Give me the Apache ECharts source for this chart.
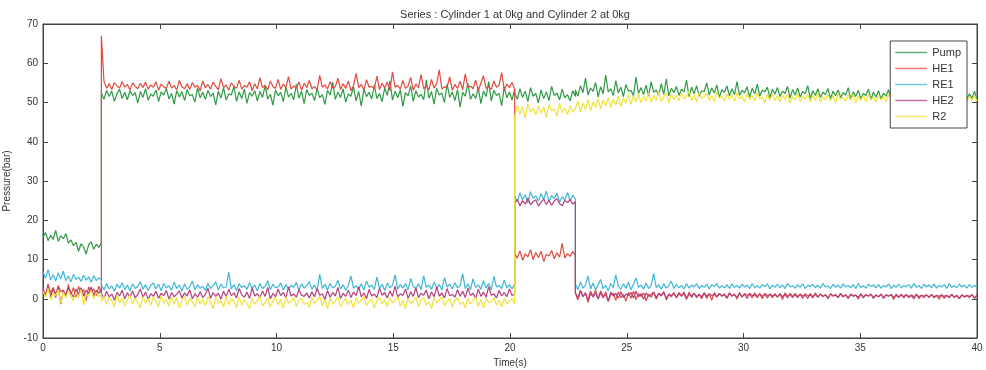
<!DOCTYPE html>
<html>
<head>
<meta charset="utf-8">
<script src="https://cdn.jsdelivr.net/npm/echarts@6/dist/echarts.min.js"></script>
<style>
  html, body { margin: 0; padding: 0; background: #fff; }
  #chartmain { width: 986px; height: 370px; }
</style>
</head>
<body>
<div id="chartmain"></div>
<script>
var segEdges = [0, 2.5, 20.2, 22.8, 40];
var segCounts = [24, 160, 24, 160];

var seriesNames = ['Pump', 'HE1', 'RE1', 'HE2', 'R2'];
var seriesColors = ['#2f9a45', '#e04b3f', '#3fb6d8', '#b3407c', '#f0e33c'];

var pump = [
  15.6, 16.9, 14.8, 16.2, 15.1, 17.4, 14.6, 16.0, 15.3, 16.6, 14.2, 15.0,
  13.5, 14.4, 12.1, 14.0, 13.2, 11.4, 13.8, 14.5, 12.6, 13.9, 13.1, 14.2,
  // 2.5 - 20.2 s
  52.4, 50.8, 53.1, 51.5, 52.9, 50.3, 52.2, 53.4, 51.0, 52.6,
  50.7, 53.0, 51.8, 52.5, 49.9, 52.8, 51.3, 53.5, 50.6, 52.1,
  51.6, 53.2, 50.2, 52.7, 51.9, 53.6, 50.9, 52.3, 49.6, 53.0,
  51.4, 52.8, 50.5, 53.3, 51.7, 52.0, 50.1, 53.7, 51.2, 52.6,
  50.8, 53.1, 51.5, 52.4, 49.4, 52.9, 51.1, 53.8, 50.6, 52.2,
  51.9, 54.1, 50.3, 52.7, 51.0, 53.4, 49.8, 52.5, 51.6, 53.0,
  50.4, 52.8, 51.3, 54.3, 50.9, 52.1, 49.3, 53.2, 51.7, 52.6,
  50.2, 53.9, 51.4, 52.3, 50.7, 54.6, 51.1, 52.9, 49.7, 53.3,
  51.8, 52.4, 50.5, 53.6, 51.2, 52.0, 49.5, 53.1, 51.9, 55.2,
  50.8, 52.7, 51.3, 53.5, 50.1, 52.2, 51.6, 54.0, 50.4, 52.8,
  49.1, 53.4, 51.5, 52.6, 50.9, 54.4, 51.0, 52.3, 50.2, 53.7,
  51.8, 55.5, 50.6, 52.9, 51.2, 53.2, 49.0, 52.5, 51.7, 54.2,
  50.3, 53.0, 51.4, 52.1, 50.7, 55.8, 51.1, 52.8, 49.6, 53.6,
  51.9, 52.4, 50.0, 54.7, 51.3, 52.7, 50.5, 53.3, 48.8, 52.6,
  51.6, 54.9, 50.8, 52.2, 51.0, 53.8, 49.7, 52.9, 51.5, 55.3,
  50.4, 53.1, 51.8, 52.3, 49.2, 54.0, 51.2, 52.7, 50.6, 53.5,
  // 20.2 - 22.8 s
  52.6, 50.8, 53.5, 51.3, 52.9, 50.2, 53.8, 51.6, 52.3, 49.9, 53.2, 51.0,
  52.7, 50.5, 54.1, 51.8, 52.4, 50.7, 53.4, 51.2, 52.0, 50.4, 53.0, 51.5,
  // 22.8 - 40 s
  53.2, 51.6, 54.3, 52.5, 56.2, 51.9, 53.7, 52.8, 55.1, 51.4,
  54.0, 52.2, 57.0, 52.7, 53.5, 51.8, 55.6, 52.4, 53.9, 51.5,
  54.6, 52.9, 53.1, 51.7, 56.5, 52.3, 53.8, 52.0, 54.4, 51.6,
  55.3, 52.6, 53.2, 51.9, 54.8, 52.1, 56.0, 51.7, 53.6, 52.5,
  54.1, 51.8, 53.4, 52.7, 55.7, 51.5, 53.9, 52.2, 54.3, 51.6,
  53.0, 52.8, 55.0, 51.9, 53.7, 52.4, 54.5, 51.3, 53.3, 52.6,
  54.2, 51.7, 53.5, 52.0, 55.3, 51.8, 53.1, 52.5, 54.0, 51.4,
  53.6, 52.2, 54.7, 51.6, 53.2, 52.7, 53.9, 51.2, 53.4, 52.1,
  53.8, 51.5, 52.9, 52.3, 54.1, 51.1, 53.3, 51.9, 53.7, 51.4,
  52.8, 52.2, 54.3, 51.0, 53.0, 51.8, 53.5, 51.3, 52.6, 52.0,
  53.6, 50.9, 52.9, 51.7, 53.2, 51.2, 52.5, 51.9, 53.8, 50.8,
  52.7, 51.5, 53.1, 51.0, 52.3, 51.8, 53.4, 50.7, 52.6, 51.4,
  53.0, 50.9, 52.4, 51.6, 53.3, 50.6, 52.8, 51.2, 52.1, 51.7,
  53.2, 50.8, 52.5, 51.4, 52.9, 50.5, 52.2, 51.6, 53.0, 50.9,
  52.4, 51.1, 52.8, 50.6, 52.1, 51.5, 53.1, 50.7, 52.3, 51.2,
  52.7, 50.4, 52.0, 51.3, 52.6, 50.8, 52.2, 51.0, 52.9, 50.6
];

var he1 = [
  2.6, 0.9, 3.8, 1.4, 2.9, 0.3, 3.4, 1.8, 2.2, 0.6, 3.6, 1.1,
  2.8, 0.4, 3.1, 1.6, 2.4, -0.5, 3.0, 1.9, 2.5, 0.8, 3.2, 1.5,
  // 2.5 - 20.2 s
  67.0, 55.4, 53.6, 54.8, 53.3, 55.1, 54.2, 53.7, 55.3, 53.9,
  54.6, 53.2, 55.0, 54.1, 53.5, 54.9, 53.8, 55.2, 53.4, 54.5,
  53.9, 55.3, 53.1, 54.7, 54.0, 53.6, 55.4, 53.7, 54.3, 53.2,
  55.6, 54.0, 53.5, 54.8, 53.3, 55.1, 53.9, 54.4, 53.0, 55.5,
  53.7, 54.6, 53.4, 55.2, 54.1, 53.2, 56.1, 53.8, 54.5, 53.1,
  55.0, 54.2, 53.6, 55.7, 53.4, 54.3, 53.9, 55.3, 53.0, 54.8,
  53.5, 56.3, 53.8, 54.4, 53.2, 55.5, 54.0, 53.6, 55.9, 53.3,
  54.7, 53.9, 56.6, 53.4, 54.2, 53.7, 55.2, 53.1, 54.9, 53.8,
  55.6, 53.5, 54.1, 53.2, 56.9, 53.9, 54.5, 53.4, 55.3, 53.7,
  54.0, 56.2, 53.3, 54.8, 53.6, 55.5, 53.0, 54.3, 57.4, 53.8,
  54.6, 53.2, 55.8, 53.9, 54.1, 53.5, 56.7, 53.3, 54.9, 53.7,
  55.2, 53.0, 57.8, 53.9, 54.4, 53.4, 55.6, 53.6, 54.2, 56.4,
  53.1, 54.7, 53.8, 57.1, 53.5, 54.3, 53.2, 55.9, 53.7, 54.8,
  58.3, 53.4, 54.0, 53.9, 56.5, 53.1, 54.6, 53.6, 55.4, 53.3,
  57.3, 53.8, 54.2, 53.5, 55.7, 53.0, 54.9, 56.8, 53.6, 54.1,
  53.3, 55.5, 53.9, 54.4, 57.6, 53.2, 54.7, 53.8, 55.1, 53.4,
  // 20.2 - 22.8 s
  11.6, 10.3, 12.2, 9.8, 11.4, 10.7, 12.5, 10.0, 11.8, 10.5, 12.1, 9.5,
  11.3, 10.9, 12.3, 10.2, 11.7, 10.6, 14.1, 10.4, 11.5, 10.8, 12.0, 11.1,
  // 22.8 - 40 s
  1.4, -0.3, 2.0, 0.5, 1.6, -0.9, 1.2, 0.7, 2.2, -0.1,
  1.5, 0.2, 1.8, -0.7, 1.0, 1.4, -0.4, 1.7, 0.3, 1.1,
  -0.6, 1.6, 0.1, 1.9, -0.2, 1.3, 0.6, 1.5, -0.5, 1.2,
  0.4, 1.7, -0.1, 1.4, 0.9, 1.8, -0.3, 1.1, 0.5, 1.5,
  0.2, 1.6, 0.8, 1.3, -0.2, 1.7, 0.3, 1.4, 0.6, 1.1,
  0.0, 1.5, 0.7, 1.2, -0.4, 1.6, 0.5, 1.3, 0.8, 1.0,
  0.1, 1.4, 0.7, 1.2, -0.1, 1.6, 0.4, 1.3, 0.9, 1.1,
  0.2, 1.5, 0.6, 1.2, 0.0, 1.4, 0.8, 1.1, 0.3, 1.3,
  0.5, 1.2, -0.2, 1.5, 0.7, 1.0, 0.3, 1.4, 0.6, 1.1,
  0.1, 1.3, 0.8, 0.9, 0.2, 1.5, 0.4, 1.2, 0.6, 1.0,
  0.0, 1.3, 0.7, 1.1, 0.3, 1.4, 0.5, 1.0, 0.2, 1.2,
  0.8, 0.9, -0.1, 1.3, 0.4, 1.1, 0.6, 1.2, 0.1, 1.0,
  0.5, 1.2, 0.3, 1.0, 0.7, 1.1, -0.2, 1.2, 0.4, 0.9,
  0.6, 1.1, 0.2, 1.0, 0.5, 1.2, 0.0, 0.9, 0.7, 1.0,
  0.3, 1.1, 0.5, 0.8, -0.1, 1.0, 0.6, 0.9, 0.2, 1.1,
  0.4, 0.8, 0.0, 1.0, 0.5, 0.9, 0.3, 1.1, 0.1, 0.8
];

var re1 = [
  6.9, 5.2, 7.4, 4.8, 6.1, 4.5, 6.6, 5.0, 7.0, 4.6, 5.8, 4.3,
  6.2, 4.9, 5.5, 4.4, 6.0, 4.7, 5.6, 4.2, 5.9, 4.6, 5.3, 4.8,
  // 2.5 - 20.2 s
  3.6, 2.2, 3.9, 2.5, 3.3, 1.9, 3.7, 2.7, 4.1, 2.3,
  3.5, 2.0, 3.8, 2.6, 3.2, 4.4, 2.4, 3.6, 2.1, 3.4,
  4.0, 2.5, 3.7, 2.0, 3.9, 2.8, 3.3, 2.2, 4.2, 2.6,
  3.5, 1.9, 3.8, 2.4, 3.1, 4.5, 2.3, 3.6, 2.7, 3.2,
  2.1, 3.9, 2.6, 3.4, 4.3, 2.2, 3.7, 2.8, 3.0, 6.8,
  2.5, 3.6, 2.1, 3.8, 2.9, 3.3, 2.4, 4.1, 2.7, 3.5,
  2.0, 3.9, 2.6, 3.2, 4.6, 2.3, 3.7, 2.8, 3.1, 4.0,
  2.2, 3.6, 2.5, 3.4, 2.9, 4.2, 2.1, 3.8, 2.7, 3.3,
  4.4, 2.4, 3.5, 2.0, 6.3, 2.6, 3.7, 2.3, 3.9, 2.8,
  3.2, 4.7, 2.5, 3.6, 2.1, 3.4, 5.8, 2.7, 3.3, 2.4,
  3.8, 2.2, 4.5, 2.9, 3.5, 2.3, 5.6, 2.6, 3.7, 2.1,
  4.0, 2.8, 3.4, 6.1, 2.4, 3.6, 2.7, 3.9, 2.2, 5.2,
  3.1, 2.6, 3.8, 2.3, 5.9, 2.9, 3.5, 2.4, 4.3, 2.7,
  3.6, 2.2, 5.4, 3.0, 3.7, 2.5, 4.1, 2.8, 3.3, 6.4,
  2.6, 3.8, 2.3, 5.1, 2.9, 3.5, 2.4, 4.6, 2.7, 3.9,
  2.2, 5.7, 3.0, 3.4, 2.6, 4.8, 2.8, 3.6, 2.5, 3.9,
  // 20.2 - 22.8 s
  26.1, 24.7, 27.0, 25.2, 26.5, 24.4, 27.3, 25.6, 26.2, 24.9, 26.8, 25.3,
  27.4, 24.8, 26.3, 25.5, 26.9, 24.6, 26.0, 25.1, 27.1, 24.9, 26.4, 25.4,
  // 22.8 - 40 s
  3.8, 2.3, 4.3, 2.7, 3.5, 5.8, 2.5, 4.0, 2.2, 3.6,
  4.9, 2.6, 3.4, 2.0, 3.9, 2.8, 6.1, 3.2, 2.4, 3.8,
  2.7, 4.2, 2.3, 3.7, 5.3, 2.9, 3.5, 2.5, 4.0, 2.6,
  3.4, 6.4, 2.8, 3.6, 2.4, 3.9, 2.7, 3.3, 4.5, 2.6,
  3.7, 2.8, 3.4, 2.5, 3.9, 2.7, 3.5, 3.0, 3.8, 2.6,
  3.4, 2.9, 3.7, 2.5, 3.6, 3.1, 3.9, 2.7, 3.3, 2.8,
  3.6, 2.6, 3.8, 2.9, 3.4, 2.7, 3.7, 3.0, 3.5, 2.6,
  3.9, 2.8, 3.3, 2.7, 3.6, 3.1, 3.8, 2.5, 3.4, 2.9,
  3.7, 2.8, 3.5, 2.6, 3.9, 3.0, 3.3, 2.7, 3.6, 2.9,
  3.8, 2.6, 3.4, 3.1, 3.7, 2.8, 3.5, 2.7, 3.9, 3.0,
  3.3, 2.6, 3.7, 2.9, 3.5, 2.7, 3.8, 3.0, 3.4, 2.8,
  3.6, 2.6, 3.9, 2.9, 3.3, 2.7, 3.7, 3.1, 3.5, 2.8,
  3.6, 2.7, 3.4, 3.0, 3.8, 2.6, 3.5, 2.9, 3.7, 2.8,
  3.3, 3.1, 3.6, 2.7, 3.9, 2.9, 3.4, 2.6, 3.7, 3.0,
  3.5, 2.8, 3.8, 2.7, 3.4, 3.0, 3.6, 2.6, 3.9, 2.9,
  3.3, 2.8, 3.7, 3.0, 3.5, 2.7, 3.6, 2.9, 3.4, 3.1
];

var he2 = [
  2.3, 0.9, 3.1, 0.5, 2.6, 1.2, 2.9, -1.4, 2.0, 1.0, 2.7, 1.6,
  0.4, 2.4, 1.1, 2.8, 0.7, 2.2, 1.3, 3.0, 0.8, 2.1, 1.4, 2.5,
  // 2.5 - 20.2 s
  1.4, 0.1, 1.9, 0.5, 1.2, -0.4, 1.6, 0.7, 2.2, 0.0,
  1.5, 0.4, 2.0, 0.2, 1.1, 2.5, 0.3, 1.7, -0.2, 1.3,
  0.6, 1.9, 0.1, 1.4, 0.8, 2.1, -0.1, 1.6, 0.5, 1.2,
  2.0, 0.2, 1.5, 0.7, 2.3, 0.0, 1.3, 0.4, 1.8, 0.3,
  1.1, 2.7, 0.1, 1.6, 0.6, 1.4, -0.1, 1.9, 0.5, 2.4,
  0.8, 1.5, 0.2, 2.6, 1.0, 0.4, 1.7, 0.1, 2.8, 0.7,
  1.3, 0.3, 2.0, 0.6, 2.9, 0.0, 1.4, 0.5, 2.5, 0.8,
  1.6, 0.2, 3.0, 0.7, 1.2, 0.4, 2.3, 0.9, 0.6, 1.5,
  0.2, 1.8, 0.5, 2.6, 0.9, 1.3, -0.2, 2.1, 0.4, 1.6,
  0.7, 2.9, 0.1, 1.4, 0.6, 2.2, 0.3, 1.7, 0.8, 3.1,
  0.5, 1.5, 0.0, 2.4, 0.7, 1.2, 0.3, 2.7, 0.9, 1.6,
  0.2, 2.0, 0.6, 3.2, 0.4, 1.3, 0.8, 2.5, 0.1, 1.8,
  0.6, 2.8, 0.3, 1.4, 0.9, 2.2, 0.0, 1.7, 0.5, 3.0,
  0.7, 1.5, 0.2, 2.6, 0.8, 1.1, 0.4, 2.3, 0.6, 1.9,
  0.3, 2.7, 0.8, 1.4, 0.1, 2.4, 0.6, 1.7, 0.4, 3.1,
  0.9, 1.3, 0.2, 2.1, 0.7, 1.6, 0.5, 2.5, 0.8, 1.2,
  // 20.2 - 22.8 s
  24.4, 25.3, 23.7, 25.0, 24.1, 25.7, 23.9, 24.8, 25.2, 23.6, 24.6, 25.4,
  24.0, 25.1, 23.8, 24.9, 25.5, 24.2, 23.7, 25.0, 24.5, 25.3, 24.1, 24.7,
  // 22.8 - 40 s
  1.6, 0.2, 2.2, 0.6, 1.3, -0.3, 1.9, 0.4, 1.5, 0.0,
  2.0, 0.5, 1.1, -0.6, 1.7, 0.7, 1.4, 0.1, 1.8, 0.3,
  1.2, 0.8, 1.6, 0.2, 1.9, 0.5, 1.3, -0.1, 1.5, 0.6,
  1.1, 1.7, 0.3, 1.4, 0.7, 1.6, 0.1, 1.2, 0.8, 1.5,
  0.4, 1.3, 0.6, 1.7, 0.2, 1.1, 0.7, 1.4, 0.3, 1.2,
  0.5, 1.5, 0.1, 1.3, 0.8, 1.1, 0.4, 1.4, 0.6, 1.2,
  0.2, 1.5, 0.7, 1.0, 0.4, 1.3, 0.5, 1.2, 0.1, 1.4,
  0.8, 1.0, 0.3, 1.3, 0.6, 1.1, 0.2, 1.2, 0.7, 1.0,
  0.4, 1.3, 0.5, 1.1, 0.2, 1.4, 0.6, 1.0, 0.3, 1.2,
  0.7, 0.9, 0.1, 1.3, 0.5, 1.1, 0.4, 1.2, 0.6, 1.0,
  0.2, 1.2, 0.7, 0.9, 0.3, 1.3, 0.5, 1.0, 0.1, 1.1,
  0.6, 0.9, 0.4, 1.2, 0.2, 1.0, 0.7, 1.1, 0.3, 0.9,
  0.5, 1.2, 0.1, 1.0, 0.6, 1.1, 0.3, 0.9, 0.4, 1.2,
  0.2, 1.0, 0.6, 0.8, 0.0, 1.1, 0.5, 0.9, 0.3, 1.0,
  0.4, 1.1, 0.2, 0.9, 0.6, 1.0, 0.1, 0.8, 0.5, 1.1,
  0.3, 0.9, 0.0, 1.0, 0.4, 0.8, 0.6, 1.0, 0.2, 0.9
];

var r2 = [
  1.9, 0.4, 2.7, -0.3, 1.5, 0.8, 2.3, -1.1, 1.7, 0.2, 2.0, 0.6,
  -0.5, 1.8, 0.3, 2.4, -1.6, 1.2, 0.7, 2.1, 0.0, 1.6, 0.5, 1.3,
  // 2.5 - 20.2 s
  -0.7, 0.7, -1.5, 0.3, -0.5, -2.1, 0.9, -1.0, 0.2, -1.8,
  -0.3, 0.8, -1.3, 0.0, -0.9, -2.3, 0.6, -1.2, 0.1, -1.7,
  0.5, -0.6, -2.0, 0.8, -1.1, -0.2, -1.9, 0.6, -1.4, 0.3,
  -2.4, -0.4, 0.7, -1.6, 0.1, -0.8, -2.1, 0.4, -1.3, -0.1,
  -1.8, 0.5, -1.0, -2.5, 0.3, -1.2, -0.5, -2.2, 0.7, -1.5,
  0.0, -0.7, -2.3, 0.4, -1.7, -0.2, -1.1, -2.6, 0.2, -1.4,
  -0.4, 0.6, -1.9, -0.8, 0.2, -2.1, -0.6, 0.4, -1.6, -0.1,
  -2.4, 0.5, -1.0, -0.7, 0.3, -2.0, -0.3, 0.1, -1.5, -0.9,
  -2.2, 0.4, -1.2, -0.5, 0.6, -1.8, -0.2, -2.5, 0.3, -1.3,
  -0.6, 0.5, -2.0, -0.9, 0.1, -1.6, -0.4, -2.3, 0.2, -1.1,
  -0.3, 0.6, -1.7, -0.8, 0.0, -2.4, -0.5, 0.4, -1.4, -0.2,
  -2.1, 0.3, -1.0, -0.6, 0.5, -1.9, -0.3, -2.6, 0.1, -1.2,
  -0.7, 0.4, -2.0, -0.4, 0.2, -1.6, -0.9, -2.5, 0.3, -1.1,
  -0.2, 0.5, -1.8, -0.6, 0.0, -2.2, -0.4, 0.3, -1.5, -0.8,
  -2.3, 0.2, -1.3, -0.5, 0.4, -1.9, -0.2, -2.4, 0.1, -1.0,
  -0.7, 0.3, -1.6, -0.3, -2.1, 0.2, -1.2, -0.6, 0.0, -1.4,
  // 20.2 - 22.8 s
  46.4, 49.3, 47.1, 48.9, 46.0, 49.7, 47.6, 48.5, 46.8, 49.1, 47.3, 48.8,
  46.2, 49.5, 47.9, 48.3, 46.6, 49.8, 47.4, 48.6, 46.9, 49.2, 47.7, 48.4,
  // 22.8 - 40 s
  48.6, 50.4, 47.5, 49.9, 48.2, 50.8, 47.9, 50.1, 48.8, 51.0,
  48.3, 50.6, 49.1, 51.3, 48.7, 50.9, 49.4, 51.6, 49.0, 51.2,
  49.8, 52.0, 49.5, 51.7, 50.2, 52.3, 49.9, 51.5, 50.4, 52.6,
  50.1, 51.9, 50.6, 52.8, 50.3, 51.4, 52.5, 50.0, 52.1, 50.7,
  51.8, 50.4, 52.4, 50.9, 51.6, 52.9, 50.5, 51.9, 50.2, 52.6,
  51.0, 51.5, 52.3, 50.6, 51.8, 50.3, 52.7, 51.1, 51.6, 50.4,
  52.2, 50.8, 51.9, 50.3, 52.5, 50.9, 51.6, 50.1, 52.3, 50.7,
  51.8, 50.4, 52.4, 50.9, 51.3, 50.0, 52.1, 50.6, 52.2, 50.5,
  51.7, 50.2, 51.9, 50.8, 52.0, 49.9, 51.5, 50.6, 52.3, 50.3,
  51.6, 50.9, 52.1, 50.1, 51.8, 50.5, 52.4, 50.2, 51.4, 50.7,
  52.0, 50.4, 51.7, 50.0, 52.2, 50.8, 51.3, 50.3, 51.9, 50.6,
  52.1, 49.9, 51.6, 50.5, 51.8, 50.2, 52.0, 50.7, 51.4, 50.1,
  51.9, 50.6, 51.5, 50.2, 52.1, 50.4, 51.7, 49.8, 51.8, 50.5,
  51.3, 50.9, 52.0, 50.1, 51.6, 50.3, 51.9, 50.6, 51.2, 50.0,
  51.7, 50.4, 51.5, 50.8, 52.0, 49.9, 51.4, 50.5, 51.8, 50.2,
  51.6, 50.7, 51.3, 50.1, 51.9, 50.4, 51.5, 50.6, 51.7, 50.3
];

var allValues = [pump, he1, re1, he2, r2];

// pair each value with its sample time inside its segment
function toPoints(vals) {
  var out = [];
  var k = 0;
  for (var s = 0; s < segCounts.length; s++) {
    var a = segEdges[s], b = segEdges[s + 1], n = segCounts[s];
    for (var j = 0; j < n; j++) {
      if (k < vals.length) {
        out.push([a + (b - a) * j / (n - 1), vals[k]]);
      }
      k++;
    }
  }
  return out;
}

var fontName = 'Liberation Sans';
var txt = '#333';

var seriesList = [];
var legendItems = [];
for (var i = 0; i < seriesNames.length; i++) {
  seriesList.push({
    name: seriesNames[i],
    type: 'line',
    data: toPoints(allValues[i]),
    showSymbol: false,
    symbol: 'none',
    lineStyle: { width: 1.2, color: seriesColors[i] },
    itemStyle: { color: seriesColors[i] },
    animation: false
  });
  // legend sample: thin flat bar in the series colour
  legendItems.push({
    name: seriesNames[i],
    icon: 'rect',
    itemStyle: { color: seriesColors[i], borderWidth: 0, opacity: 0.75 }
  });
}

var tickStyle = { inside: true, length: 5, lineStyle: { color: '#444' } };

var myChart = echarts.init(document.getElementById('chartmain'));
var option = {
  backgroundColor: '#fff',
  animation: false,
  title: {
    text: 'Series : Cylinder 1 at 0kg and Cylinder 2 at 0kg',
    left: 510,
    textAlign: 'center',
    top: 4,
    textStyle: { fontFamily: fontName, fontSize: 11, fontWeight: 'normal', color: txt }
  },
  legend: {
    data: legendItems,
    orient: 'vertical',
    right: 19,
    top: 41,
    padding: [5, 6, 5, 5],
    itemGap: 3,
    itemWidth: 32,
    itemHeight: 1.5,
    itemStyle: { borderWidth: 0 },
    lineStyle: { width: 0 },
    borderColor: '#444',
    borderWidth: 1,
    borderRadius: 0,
    backgroundColor: '#fff',
    textStyle: { fontFamily: fontName, fontSize: 11, color: txt, lineHeight: 13 }
  },
  grid: {
    left: 43, right: 9, top: 24, bottom: 32,
    outerBoundsMode: 'none',
    containLabel: false,
    show: true, borderColor: '#444', borderWidth: 1
  },
  xAxis: [{
    type: 'value',
    min: 0, max: 40, interval: 5,
    name: 'Time(s)',
    nameLocation: 'middle',
    nameGap: 20,
    nameTextStyle: { fontFamily: fontName, fontSize: 10, color: txt },
    axisLine: { onZero: false, lineStyle: { color: '#444' } },
    axisTick: tickStyle,
    axisLabel: { fontFamily: fontName, fontSize: 10, color: txt, margin: 5 },
    splitLine: { show: false }
  }, {
    type: 'value',
    position: 'top',
    min: 0, max: 40, interval: 5,
    axisLine: { onZero: false, lineStyle: { color: '#444' } },
    axisTick: tickStyle,
    axisLabel: { show: false },
    splitLine: { show: false }
  }],
  yAxis: [{
    type: 'value',
    min: -10, max: 70, interval: 10,
    name: 'Pressure(bar)',
    nameLocation: 'middle',
    nameGap: 24,
    nameTextStyle: { fontFamily: fontName, fontSize: 10, color: txt },
    axisLine: { show: true, onZero: false, lineStyle: { color: '#444' } },
    axisTick: { show: true, inside: true, length: 5, lineStyle: { color: '#444' } },
    axisLabel: { fontFamily: fontName, fontSize: 10, color: txt, margin: 5 },
    splitLine: { show: false }
  }, {
    type: 'value',
    position: 'right',
    min: -10, max: 70, interval: 10,
    axisLine: { show: true, onZero: false, lineStyle: { color: '#444' } },
    axisTick: { show: true, inside: true, length: 5, lineStyle: { color: '#444' } },
    axisLabel: { show: false },
    splitLine: { show: false }
  }],
  series: seriesList
};
myChart.setOption(option);
</script>
</body>
</html>
